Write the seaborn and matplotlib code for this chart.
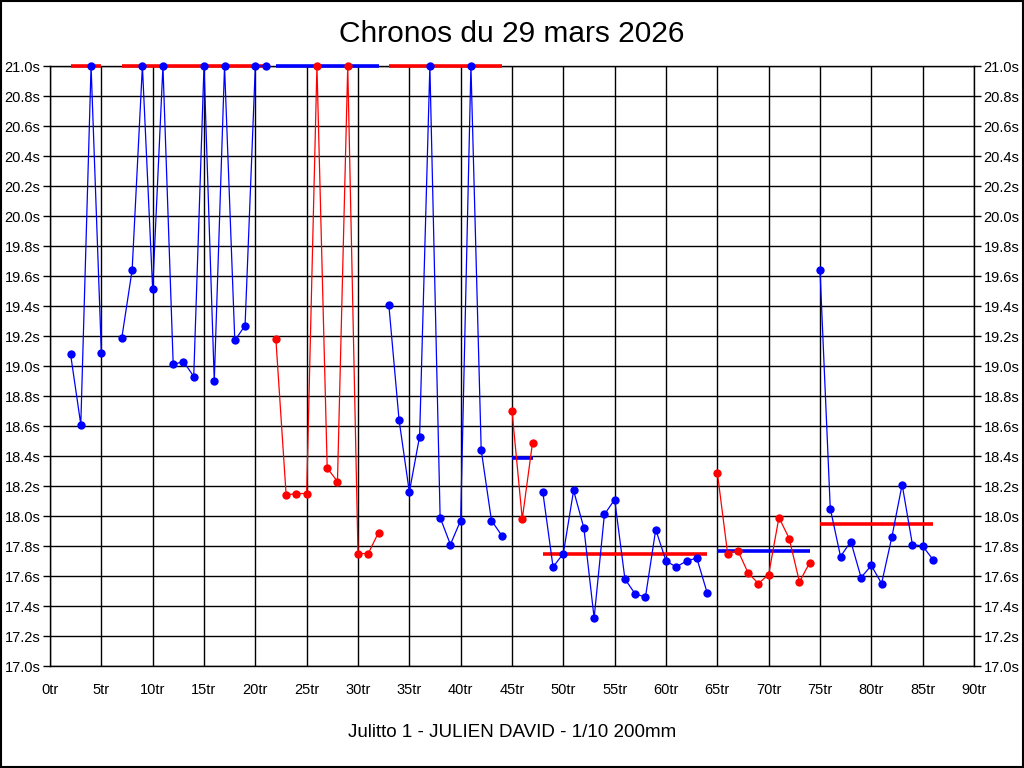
import numpy as np
import pandas as pd
import matplotlib
matplotlib.use("Agg")
import matplotlib.pyplot as plt
import seaborn as sns
from matplotlib.patches import Rectangle

# lap times per run segment (values above 21.0s are shown clipped at 21.0)
seg1_laps = [2, 3, 4, 5]
seg1_times = [19.08, 18.61, 21.0, 19.09]
seg2_laps = [7, 8, 9, 10, 11, 12, 13, 14, 15, 16, 17, 18, 19, 20, 21]
seg2_times = [19.19, 19.64, 21.0, 19.51, 21.0, 19.01, 19.03, 18.93, 21.0, 18.90,
              21.0, 19.17, 19.27, 21.0, 21.0]
seg3_laps = [22, 23, 24, 25, 26, 27, 28, 29, 30, 31, 32]
seg3_times = [19.18, 18.14, 18.15, 18.15, 21.0, 18.32, 18.23, 21.0, 17.75, 17.75, 17.89]
seg4_laps = [33, 34, 35, 36, 37, 38, 39, 40, 41, 42, 43, 44]
seg4_times = [19.41, 18.64, 18.16, 18.53, 21.0, 17.99, 17.81, 17.97, 21.0, 18.44, 17.97, 17.87]
seg5_laps = [45, 46, 47]
seg5_times = [18.70, 17.98, 18.49]
seg6_laps = list(range(48, 65))
seg6_times = [18.16, 17.66, 17.75, 18.17, 17.92, 17.32, 18.01, 18.11, 17.58, 17.48,
              17.46, 17.91, 17.70, 17.66, 17.70, 17.72, 17.49]
seg7_laps = list(range(65, 75))
seg7_times = [18.29, 17.75, 17.77, 17.62, 17.55, 17.61, 17.99, 17.85, 17.56, 17.69]
seg8_laps = list(range(75, 87))
seg8_times = [19.64, 18.05, 17.73, 17.83, 17.59, 17.67, 17.55, 17.86, 18.21, 17.81,
              17.80, 17.71]

seg_colors = ['blue', 'blue', 'red', 'blue', 'red', 'blue', 'red', 'blue']
mean_colors = ['red', 'red', 'blue', 'red', 'blue', 'red', 'blue', 'red']
seg_means = [21.0, 21.0, 21.0, 21.0, 18.39, 17.75, 17.77, 17.95]

segments = [(seg1_laps, seg1_times), (seg2_laps, seg2_times), (seg3_laps, seg3_times),
            (seg4_laps, seg4_times), (seg5_laps, seg5_times), (seg6_laps, seg6_times),
            (seg7_laps, seg7_times), (seg8_laps, seg8_times)]

rows = []
for i, (laps, times) in enumerate(segments):
    for lap, t in zip(laps, times):
        rows.append({'lap': lap, 'time': t, 'seg': i})
df = pd.DataFrame(rows)

sns.set_theme(style="white")
plt.rcParams['font.family'] = ['Liberation Sans', 'DejaVu Sans']
plt.rcParams['text.color'] = 'black'
plt.rcParams['axes.labelcolor'] = 'black'
plt.rcParams['xtick.color'] = 'black'
plt.rcParams['ytick.color'] = 'black'

fig = plt.figure(figsize=(10.24, 7.68), dpi=100)
fig.patch.set_facecolor('white')
ax = fig.add_axes([50 / 1024, 1 - 666 / 768, 924 / 1024, 600 / 768])

# mean line per segment
for i, (laps, times) in enumerate(segments):
    ax.hlines(seg_means[i], laps[0], laps[-1], colors=mean_colors[i],
              linewidth=2.6, zorder=3, clip_on=False)

for i in range(len(segments)):
    sub = df[df['seg'] == i]
    sns.lineplot(data=sub, x='lap', y='time', color=seg_colors[i], marker='o',
                 markersize=6, markeredgewidth=0, linewidth=0.9,
                 estimator=None, ax=ax, clip_on=False, zorder=4)

ax.set_xlim(0, 90)
ax.set_ylim(17.0, 21.0)
xt = np.arange(0, 91, 5)
yt = np.round(np.arange(17.0, 21.01, 0.2), 1)
ax.set_xticks(xt)
ax.set_xticklabels([f"{v}tr" for v in xt])
ax.set_yticks(yt)
ax.set_yticklabels([f"{v:.1f}s" for v in yt])
ax.grid(True, color='black', linewidth=1)
ax.set_axisbelow(True)
for s in ax.spines.values():
    s.set_color('black')
    s.set_linewidth(1)
ax.tick_params(axis='y', left=True, right=True, labelleft=True, labelright=True,
               length=5, width=1, color='black', labelsize=10.5, pad=2,
               labelcolor='black')
ax.tick_params(axis='x', bottom=False, labelsize=10.5, pad=6, labelcolor='black')
ax.set_xlabel('Julitto 1 - JULIEN DAVID - 1/10 200mm', fontsize=13.5, labelpad=20,
              color='black')
ax.set_ylabel('')
fig.suptitle('Chronos du 29 mars 2026', fontsize=21.5, y=1 - 34 / 768, va='center',
             color='black')

fig.add_artist(Rectangle((0.001, 0.001), 0.998, 0.998, transform=fig.transFigure,
                         fill=False, edgecolor='black', linewidth=1.5))

plt.savefig('out.png', dpi=100)
plt.close()
